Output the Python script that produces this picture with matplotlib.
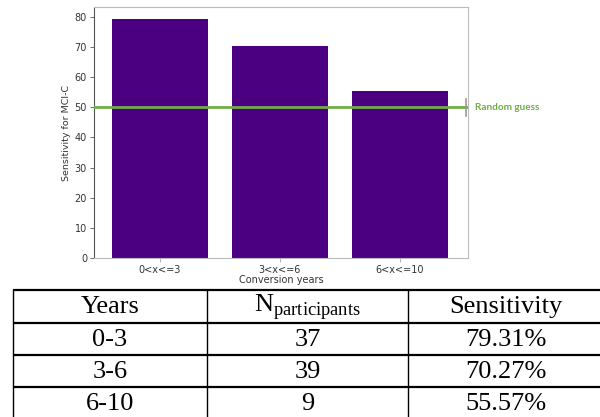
import matplotlib
matplotlib.use('Agg')
import matplotlib.pyplot as plt
from matplotlib.patches import Rectangle

# chart data
groups = ['0<x<=3', '3<x<=6', '6<x<=10']
sens = [79.31, 70.27, 55.57]
guess = 50

# table data
tab_head = ['Years', r'N$_{\mathrm{participants}}$', 'Sensitivity']
tab_years = ['0-3', '3-6', '6-10']
tab_n = ['37', '39', '9']
tab_sens = ['79.31%', '70.27%', '55.57%']

plt.rcParams['mathtext.fontset'] = 'custom'
plt.rcParams['mathtext.rm'] = 'Liberation Serif'

fig = plt.figure(figsize=(6, 4.17), dpi=100)

#bar chart
ax = fig.add_axes([94/600, 1-258/417, 374/600, 251/417])
ax.bar(range(len(groups)), sens, width=0.8, color='#4b0082')
ax.set_xlim(-0.55, 2.57)
ax.set_xticks(range(len(groups)))
ax.set_xticklabels(groups, fontsize=7, color='#333333')
ax.tick_params(axis='y', labelsize=7, labelcolor='#333333', length=3, width=0.6, color='#555555', pad=2)
ax.tick_params(axis='x', length=3, width=0.6, color='#aaaaaa', pad=2)
ax.set_xlabel('Conversion years', fontsize=7, color='#333333', labelpad=0)
ax.set_ylabel('Sensitivity for MCI-C', fontsize=6.8, color='#333333', labelpad=3)
ax.set_yticks(range(0, 81, 10))
for s in ['top', 'right', 'bottom']:
    ax.spines[s].set_color('#bbbbbb')
    ax.spines[s].set_linewidth(0.8)
ax.spines['left'].set_color('#555555')
ax.spines['left'].set_linewidth(0.8)

#random guess line
ax.add_patch(Rectangle((2.4, guess-4.6), 0.14, 5.2, facecolor='white', edgecolor='none', zorder=3))
ax.axhline(guess, color='#70ad47', lw=2, zorder=4)
ax.plot([2.555, 2.555], [guess-2.8, guess+2.6], color='#999999', lw=1.2, zorder=5, clip_on=False)
ax.text(2.625, guess, 'Random guess', color='#70ad47', fontsize=7.2, fontweight='bold',
        family='Lato', va='center', ha='left', clip_on=False)

#table drawn in pixel coords
tx = fig.add_axes([0, 0, 1, 1], zorder=-1)
tx.set_xlim(0, 600)
tx.set_ylim(417, 0)
tx.axis('off')
cols = [13, 207, 408, 603]
rows = [290, 323, 355, 387, 419]
for y in rows:
    tx.plot([cols[0], cols[-1]], [y, y], color='black', lw=1.6, solid_capstyle='butt')
for x in cols:
    tx.plot([x, x], [rows[0], rows[-1]], color='black', lw=1.0)
cells = [tab_head] + [list(r) for r in zip(tab_years, tab_n, tab_sens)]
for i, row in enumerate(cells):
    yc = (rows[i] + rows[i+1]) / 2
    for j, val in enumerate(row):
        xc = (cols[j] + cols[j+1]) / 2
        tx.text(xc, yc + 0.5, val, ha='center', va='center', fontsize=19,
                family='Liberation Serif')

plt.savefig('out.png', dpi=100)
